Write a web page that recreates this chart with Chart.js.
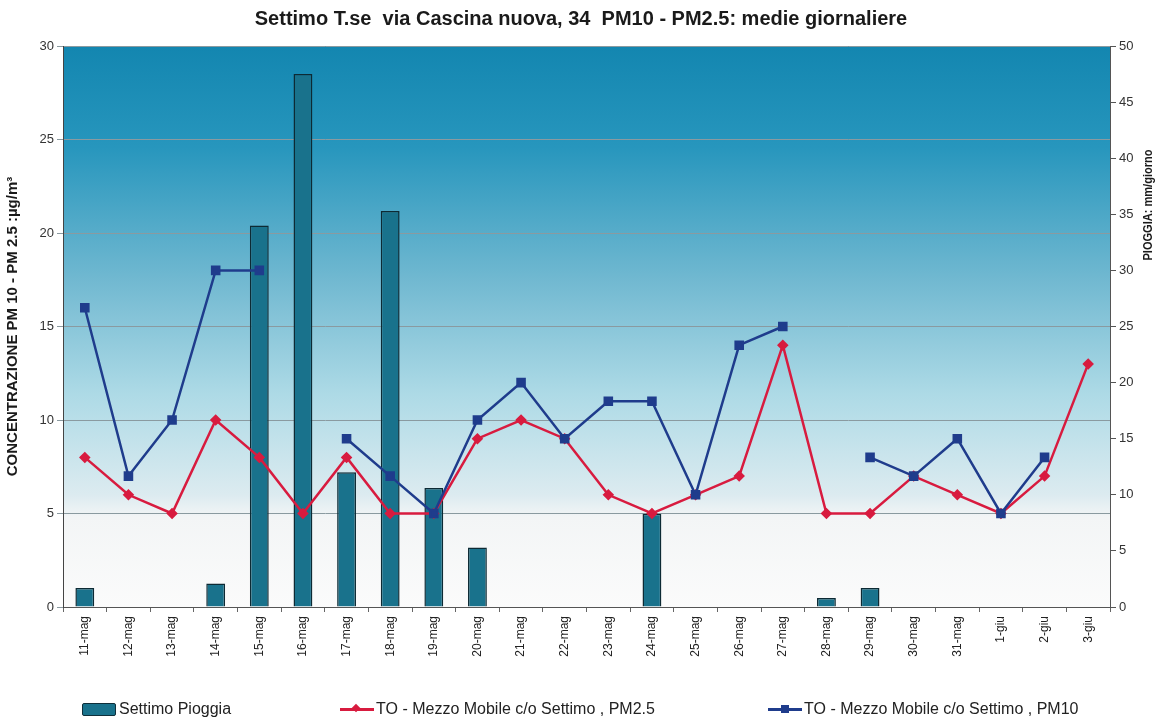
<!DOCTYPE html>
<html>
<head>
<meta charset="utf-8">
<script src="https://cdn.jsdelivr.net/npm/chart.js@4"></script>
<style>
  body { margin: 0; background: #fff; font-family: "Liberation Sans", Arial, sans-serif; }
  #wrap { position: relative; width: 1162px; height: 719px; }
  #legend { position: absolute; left: 0; top: 699px; width: 1162px; height: 20px; font-size: 16px; color: #222; }
  .item { position: absolute; top: 0; white-space: nowrap; line-height: 20px; }
  .swatch { display: inline-block; vertical-align: middle; }
</style>
</head>
<body>
<div id="wrap">
  <canvas id="chart"></canvas>
  <div id="legend">
    <div class="item" style="left:82px">
      <span class="swatch" style="width:32px;height:11px;background:#19728c;border:1px solid #0f2f3a;border-radius:2px;margin-right:3px"></span>Settimo Pioggia
    </div>
    <div class="item" style="left:340px">
      <span class="swatch" style="position:relative;width:34px;height:3px;background:#d81b3f;margin-right:2px">
        <span style="position:absolute;left:13px;top:-3px;width:6px;height:6px;background:#d81b3f;transform:rotate(45deg)"></span>
      </span>TO - Mezzo Mobile c/o Settimo , PM2.5
    </div>
    <div class="item" style="left:768px">
      <span class="swatch" style="position:relative;width:34px;height:3px;background:#1f3c8c;margin-right:2px">
        <span style="position:absolute;left:13px;top:-3px;width:8px;height:8px;background:#1f3c8c"></span>
      </span>TO - Mezzo Mobile c/o Settimo , PM10
    </div>
  </div>
</div>
<script>
  const labels = ['11-mag', '12-mag', '13-mag', '14-mag', '15-mag', '16-mag', '17-mag', '18-mag',
    '19-mag', '20-mag', '21-mag', '22-mag', '23-mag', '24-mag', '25-mag', '26-mag', '27-mag',
    '28-mag', '29-mag', '30-mag', '31-mag', '1-giu', '2-giu', '3-giu'];

  // pioggia mm/giorno (asse destro)
  const pioggia = [1.7, 0, 0, 2.1, 34, 47.5, 12, 35.3, 10.6, 5.3, 0, 0, 0, 8.3, 0, 0, 0,
    0.8, 1.7, 0, 0, 0, 0, 0];

  // concentrazioni µg/m³ (asse sinistro)
  const pm25 = [8, 6, 5, 10, 8, 5, 8, 5, 5, 9, 10, 9, 6, 5, 6, 7, 14, 5, 5, 7, 6, 5, 7, 13];
  const pm10 = [16, 7, 10, 18, 18, null, 9, 7, 5, 10, 12, 9, 11, 11, 6, 14, 15, null, 8, 7, 9, 5, 8, null];

  const FONT = '"Liberation Sans", Arial, sans-serif';

  const plotBackground = {
    id: 'plotBackground',
    beforeDraw(chart) {
      const { ctx, chartArea: a } = chart;
      const g = ctx.createLinearGradient(0, a.top, 0, a.bottom);
      g.addColorStop(0, '#1386b0');
      g.addColorStop(0.18, '#2796bd');
      g.addColorStop(0.42, '#72b9d1');
      g.addColorStop(0.62, '#addae6');
      g.addColorStop(0.8, '#dcebf0');
      g.addColorStop(0.84, '#f3f5f6');
      g.addColorStop(1, '#fbfbfb');
      ctx.save();
      ctx.fillStyle = g;
      ctx.fillRect(a.left, a.top, a.right - a.left, a.bottom - a.top);
      ctx.restore();
    }
  };

  // titolo asse destro, letto dal basso verso l'alto
  const rightTitle = {
    id: 'rightTitle',
    afterDraw(chart) {
      const ctx = chart.ctx;
      ctx.save();
      ctx.translate(1148, 205);
      ctx.rotate(-Math.PI / 2);
      ctx.scale(0.85, 1);
      ctx.font = 'bold 13px ' + FONT;
      ctx.fillStyle = '#1a1a1a';
      ctx.textAlign = 'center';
      ctx.textBaseline = 'middle';
      ctx.fillText('PIOGGIA: mm/giorno', 0, 0);
      ctx.restore();
    }
  };

  new Chart(document.getElementById('chart'), {
    data: {
      labels,
      datasets: [
        {
          type: 'line',
          label: 'TO - Mezzo Mobile c/o Settimo , PM2.5',
          data: pm25,
          yAxisID: 'y',
          borderColor: '#d81b3f',
          backgroundColor: '#d81b3f',
          borderWidth: 2.5,
          pointStyle: 'rectRot',
          pointRadius: 4,
          tension: 0,
          order: 2,
        },
        {
          type: 'line',
          label: 'TO - Mezzo Mobile c/o Settimo , PM10',
          data: pm10,
          yAxisID: 'y',
          borderColor: '#1f3c8c',
          backgroundColor: '#1f3c8c',
          borderWidth: 2.5,
          pointStyle: 'rect',
          pointRadius: 5,
          spanGaps: false,
          tension: 0,
          order: 1,
        },
        {
          type: 'bar',
          label: 'Settimo Pioggia',
          data: pioggia,
          yAxisID: 'y1',
          backgroundColor: '#19728c',
          borderColor: '#0d2a34',
          borderWidth: 1.5,
          barPercentage: 0.48,
          categoryPercentage: 0.9,
          order: 3,
        }
      ]
    },
    options: {
      responsive: true,
      maintainAspectRatio: false,
      animation: false,
      layout: { padding: 0 },
      plugins: {
        legend: { display: false },
        tooltip: { enabled: false },
        title: {
          display: true,
          text: 'Settimo T.se  via Cascina nuova, 34  PM10 - PM2.5: medie giornaliere',
          font: { family: FONT, size: 20, weight: 'bold', lineHeight: 1.2 },
          color: '#1a1a1a',
          padding: { top: 7, bottom: 15 }
        }
      },
      scales: {
        x: {
          offset: true,
          grid: { offset: true, drawOnChartArea: false, tickLength: 5, color: '#666' },
          border: { color: '#555' },
          ticks: {
            autoSkip: false, maxRotation: 90, minRotation: 90, padding: 4,
            font: { family: FONT, size: 12 }, color: '#222'
          },
          afterFit(s) { s.height = 112; }
        },
        y: {
          position: 'left',
          min: 0, max: 30,
          ticks: { stepSize: 5, padding: 3, font: { family: FONT, size: 13 }, color: '#333' },
          grid: { color: '#8a9aa0', tickLength: 6, lineWidth: 1 },
          border: { color: '#444' },
          title: {
            display: true,
            text: 'CONCENTRAZIONE PM 10 - PM 2.5 :µg/m³',
            font: { family: FONT, size: 15, weight: 'bold' },
            color: '#1a1a1a',
            padding: { top: 4, bottom: 0 }
          },
          afterFit(s) { s.width = 63; }
        },
        y1: {
          position: 'right',
          min: 0, max: 50,
          ticks: { stepSize: 5, padding: 3, font: { family: FONT, size: 13 }, color: '#333' },
          grid: { drawOnChartArea: false, tickLength: 6, color: '#555' },
          border: { color: '#555' },
          afterFit(s) { s.width = 52; }
        }
      }
    },
    plugins: [plotBackground, rightTitle]
  });
</script>
</body>
</html>
